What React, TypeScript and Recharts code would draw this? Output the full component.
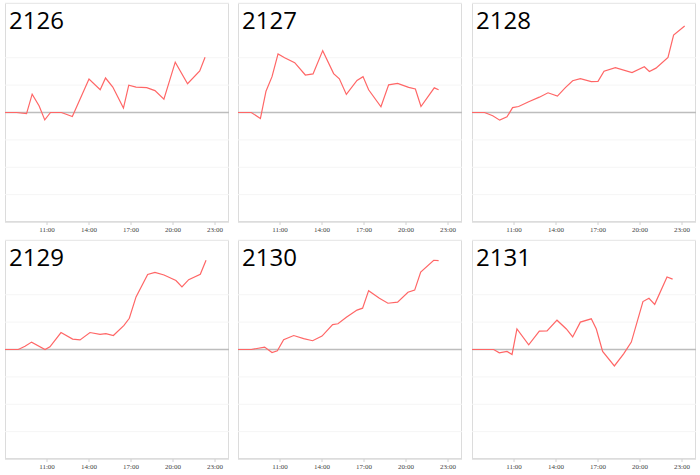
import { LineChart, Line, XAxis, YAxis, CartesianGrid, ReferenceLine } from 'recharts';

// hour of day for each point, and the value (one grid step = 1)
const hours2126 = [8, 8.83, 9.54, 9.94, 10.44, 10.84, 11.25, 12.03, 12.81, 14.0, 14.8, 15.18, 15.7, 16.46, 16.84, 17.36, 18.12, 18.71, 19.35, 20.16, 21.04, 21.91, 22.29];
const values2126 = [0, 0, -0.04, 0.67, 0.24, -0.27, 0, 0, -0.15, 1.22, 0.83, 1.26, 0.93, 0.16, 1.0, 0.93, 0.91, 0.8, 0.49, 1.84, 1.05, 1.52, 2.02];

const hours2127 = [8, 8.95, 9.6, 10.0, 10.43, 10.86, 11.33, 12.05, 12.81, 13.36, 14.05, 14.83, 15.24, 15.74, 16.5, 16.93, 17.33, 18.21, 18.76, 19.4, 20.19, 20.67, 21.07, 22.02, 22.33];
const values2127 = [0, 0, -0.22, 0.78, 1.31, 2.14, 2.0, 1.82, 1.37, 1.41, 2.26, 1.42, 1.23, 0.66, 1.17, 1.31, 0.83, 0.21, 1.01, 1.06, 0.92, 0.86, 0.22, 0.9, 0.83];

const hours2128 = [8, 8.9, 9.48, 9.98, 10.5, 10.9, 11.33, 12.05, 12.81, 13.43, 14.1, 14.67, 15.19, 15.74, 16.52, 17.0, 17.43, 18.24, 19.43, 20.31, 20.67, 21.14, 22.0, 22.4, 23.19];
const values2128 = [0, 0, -0.12, -0.28, -0.16, 0.18, 0.22, 0.39, 0.56, 0.72, 0.6, 0.91, 1.16, 1.24, 1.13, 1.14, 1.51, 1.64, 1.46, 1.67, 1.5, 1.62, 2.01, 2.83, 3.16];

const hours2129 = [8, 8.95, 9.43, 9.9, 10.86, 11.21, 12.0, 12.83, 13.36, 14.07, 14.79, 15.21, 15.74, 16.5, 16.88, 17.36, 18.19, 18.71, 19.36, 20.21, 20.64, 21.12, 21.95, 22.36];
const values2129 = [0, 0, 0.12, 0.27, 0, 0.1, 0.62, 0.38, 0.35, 0.62, 0.55, 0.58, 0.51, 0.88, 1.14, 1.92, 2.74, 2.82, 2.72, 2.52, 2.29, 2.55, 2.75, 3.26];

const hours2130 = [8, 8.95, 9.9, 10.43, 10.81, 11.26, 11.98, 12.69, 13.33, 14.0, 14.76, 15.14, 15.74, 16.5, 16.9, 17.33, 18.1, 18.71, 19.4, 20.14, 20.62, 21.05, 21.98, 22.33];
const values2130 = [0, 0, 0.09, -0.11, -0.05, 0.36, 0.51, 0.4, 0.32, 0.49, 0.91, 0.94, 1.18, 1.44, 1.51, 2.15, 1.87, 1.69, 1.73, 2.09, 2.17, 2.83, 3.26, 3.25];

const hours2131 = [8, 9.55, 9.95, 10.5, 10.86, 11.21, 12.05, 12.81, 13.36, 14.07, 14.74, 15.19, 15.74, 16.52, 16.88, 17.33, 18.17, 18.83, 19.38, 20.21, 20.64, 21.05, 21.93, 22.33];
const values2131 = [0, 0, -0.12, -0.07, -0.18, 0.75, 0.17, 0.67, 0.68, 1.07, 0.75, 0.46, 1.0, 1.12, 0.75, -0.07, -0.6, -0.16, 0.27, 1.75, 1.87, 1.65, 2.65, 2.57];

const xTicks = [11, 14, 17, 20, 23];
const yTicks = [-4, -3, -2, -1, 0, 1, 2, 3, 4];

const panels = [
  { name: '2126', hours: hours2126, values: values2126, left: 5, top: 3 },
  { name: '2127', hours: hours2127, values: values2127, left: 238, top: 3 },
  { name: '2128', hours: hours2128, values: values2128, left: 472, top: 3 },
  { name: '2129', hours: hours2129, values: values2129, left: 5, top: 240 },
  { name: '2130', hours: hours2130, values: values2130, left: 238, top: 240 },
  { name: '2131', hours: hours2131, values: values2131, left: 472, top: 240 },
];

const PLOT_W = 224;
const PLOT_H = 219;

const Panel = ({ name, hours, values, left, top }) => {
  const data = hours.map((h, i) => ({ hour: h, value: values[i] }));
  return (
    <div style={{ position: 'absolute', left: left - 1, top: top - 1 }}>
      <div
        style={{
          position: 'absolute',
          left: 1,
          top: 1,
          width: PLOT_W,
          height: PLOT_H,
          boxSizing: 'border-box',
          border: '1px solid #dcdcdc',
        }}
      />
      <LineChart
        width={PLOT_W + 2}
        height={PLOT_H + 22}
        data={data}
        margin={{ top: 1, right: 1, left: 1, bottom: 0 }}
      >
        <CartesianGrid horizontal vertical={false} stroke="#f5f5f5" />
        <XAxis
          dataKey="hour"
          type="number"
          domain={[8, 24]}
          ticks={xTicks}
          tickFormatter={(h) => `${h}:00`}
          tick={{ fontSize: 7, fill: '#444' }}
          tickSize={3}
          stroke="#d0d0d0"
          height={21}
        />
        <YAxis hide domain={[-4, 4]} ticks={yTicks} />
        <ReferenceLine y={0} stroke="#bdbdbd" strokeWidth={1.5} />
        <Line
          type="linear"
          dataKey="value"
          stroke="#ff6666"
          strokeWidth={1.2}
          dot={false}
          isAnimationActive={false}
        />
      </LineChart>
      <div
        style={{
          position: 'absolute',
          left: 5,
          top: 5,
          fontFamily: '"Open Sans", sans-serif',
          fontSize: 24,
          lineHeight: '25px',
          color: '#000',
        }}
      >
        {name}
      </div>
    </div>
  );
}

export default function App() {
  return (
    <div style={{ position: 'absolute', left: 0, top: 0, width: 700, height: 475, background: '#fff' }}>
      {panels.map((p) => (
        <Panel key={p.name} {...p} />
      ))}
    </div>
  );
}
